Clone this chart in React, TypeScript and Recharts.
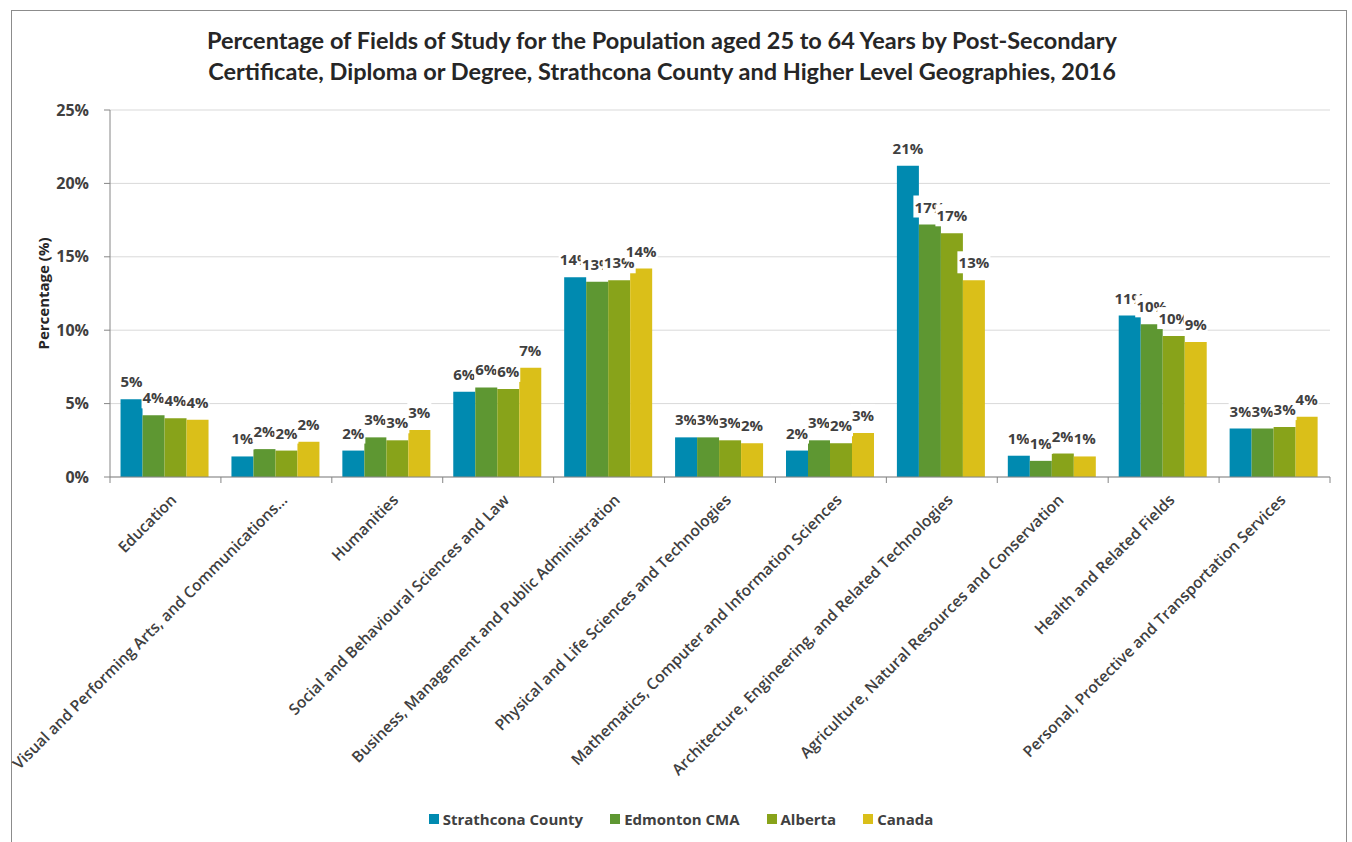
import React from 'react';
import { BarChart, Bar, XAxis, YAxis, CartesianGrid, LabelList } from 'recharts';

const categories = [
    'Education',
    'Visual and Performing Arts, and Communications...',
    'Humanities',
    'Social and Behavioural Sciences and Law',
    'Business, Management and Public Administration',
    'Physical and Life Sciences and Technologies',
    'Mathematics, Computer and Information Sciences',
    'Architecture, Engineering, and Related Technologies',
    'Agriculture, Natural Resources and Conservation',
    'Health and Related Fields',
    'Personal, Protective and Transportation Services',
];

const strathcona = [5.3, 1.4, 1.8, 5.8, 13.6, 2.7, 1.8, 21.2, 1.45, 11.0, 3.3];
const edmonton = [4.2, 1.9, 2.7, 6.1, 13.3, 2.7, 2.5, 17.2, 1.1, 10.4, 3.3];
const alberta = [4.0, 1.8, 2.5, 6.0, 13.4, 2.5, 2.3, 16.6, 1.6, 9.6, 3.4];
const canada = [3.9, 2.4, 3.2, 7.45, 14.2, 2.3, 3.0, 13.4, 1.4, 9.2, 4.1];

const yTicks = [0, 5, 10, 15, 20, 25];

const seriesList = [
    { key: 'strathcona', name: 'Strathcona County', color: '#008AB0' },
    { key: 'edmonton', name: 'Edmonton CMA', color: '#5E9732' },
    { key: 'alberta', name: 'Alberta', color: '#88A31A' },
    { key: 'canada', name: 'Canada', color: '#DABF19' },
];

const chartData = categories.map((name, i) => ({
    name,
    strathcona: strathcona[i],
    edmonton: edmonton[i],
    alberta: alberta[i],
    canada: canada[i],
}));

const CHART_W = 1352;
const CHART_H = 842;
const MARGIN = { top: 110, right: 22, bottom: 35, left: 50 };
const Y_AXIS_W = 60;
const PLOT_W = CHART_W - MARGIN.left - MARGIN.right - Y_AXIS_W;
const BAND = PLOT_W / categories.length;
const TEXT = '#404040';
const AXIS = '#868686';
const FONT = '"Open Sans", "DejaVu Sans", sans-serif';

// category label rotated 45deg, with tick marks on the band edges
const CategoryTick = (props: any) => {
    const { x, y, payload, index } = props;
    const left = x - BAND / 2;
    const ax = x + 12;
    const ay = y + 24;
    return (
        <g>
            <line x1={left} y1={y} x2={left} y2={y + 6} stroke={AXIS} />
            {index === categories.length - 1 && (
                <line x1={x + BAND / 2} y1={y} x2={x + BAND / 2} y2={y + 6} stroke={AXIS} />
            )}
            <text
                x={ax}
                y={ay}
                transform={`rotate(-45, ${ax}, ${ay})`}
                textAnchor="end"
                fill={TEXT}
                fontSize={15.5}
                fontWeight={600}
                fontFamily={FONT}
            >
                {payload.value}
            </text>
        </g>
    );
};

// Excel-like data label: text on a white box sitting above the bar
const BoxLabel = (props: any) => {
    const { x, y, width, value } = props;
    if (value == null) return null;
    const text = `${Math.round(value)}%`;
    const cx = x + width / 2;
    const w = text.length * 9 + 6;
    const h = 22;
    const bottom = y - 7;
    return (
        <g>
            <rect x={cx - w / 2} y={bottom - h} width={w} height={h} fill="#ffffff" />
            <text
                x={cx}
                y={bottom - h / 2}
                dominantBaseline="central"
                textAnchor="middle"
                fill={TEXT}
                fontSize={15}
                fontWeight={700}
                fontFamily={FONT}
            >
                {text}
            </text>
        </g>
    );
};

export default function App() {
    return (
        <div style={{ position: 'absolute', left: 0, top: 0, width: CHART_W, height: CHART_H, overflow: 'hidden', background: '#fff' }}>
            <div style={{
                position: 'absolute', left: 11, top: 10, width: 1336, height: 860,
                border: '1px solid #8c8c8c', boxSizing: 'border-box'
            }} />
            <div style={{
                position: 'absolute', left: 0, width: 1324, top: 25, textAlign: 'center',
                fontFamily: 'Lato, "Open Sans", sans-serif', fontWeight: 700, fontSize: 23.5,
                lineHeight: '31px', color: '#262626'
            }}>
                Percentage of Fields of Study for the Population aged 25 to 64 Years by Post-Secondary<br />
                Certificate, Diploma or Degree, Strathcona County and Higher Level Geographies, 2016
            </div>

            <div style={{ position: 'absolute', left: 0, top: 0 }}>
                <BarChart
                    width={CHART_W}
                    height={CHART_H}
                    data={chartData}
                    margin={MARGIN}
                    barCategoryGap="9.5%"
                    barGap={0}
                >
                    <CartesianGrid vertical={false} stroke="#d9d9d9" />
                    <XAxis
                        dataKey="name"
                        interval={0}
                        height={330}
                        tickSize={0}
                        tickMargin={0}
                        tickLine={false}
                        axisLine={{ stroke: AXIS }}
                        tick={<CategoryTick />}
                    />
                    <XAxis xAxisId="labels" dataKey="name" hide />
                    <YAxis
                        width={Y_AXIS_W}
                        domain={[0, 25]}
                        ticks={yTicks}
                        interval={0}
                        tickFormatter={(v) => `${v}%`}
                        axisLine={{ stroke: AXIS }}
                        tickLine={{ stroke: AXIS }}
                        tickSize={6}
                        tickMargin={15}
                        tick={{ fill: TEXT, fontSize: 16, fontWeight: 700, fontFamily: FONT }}
                        label={{
                            value: 'Percentage (%)',
                            angle: -90,
                            position: 'left',
                            offset: 6,
                            style: { fill: '#262626', fontSize: 15, fontWeight: 700, fontFamily: FONT, textAnchor: 'middle' },
                        }}
                    />
                    {seriesList.map((s) => (
                        <Bar key={s.key} dataKey={s.key} name={s.name} fill={s.color} isAnimationActive={false} />
                    ))}
                    {/* transparent copies drawn last so every label sits on top of all bars */}
                    {seriesList.map((s) => (
                        <Bar
                            key={`${s.key}-lbl`}
                            xAxisId="labels"
                            dataKey={s.key}
                            fill="transparent"
                            isAnimationActive={false}
                            legendType="none"
                        >
                            <LabelList dataKey={s.key} content={<BoxLabel />} />
                        </Bar>
                    ))}
                </BarChart>
            </div>

            <div style={{
                position: 'absolute', left: 0, width: 1352, top: 809, display: 'flex',
                justifyContent: 'center', gap: 27, paddingLeft: 10, boxSizing: 'border-box',
                fontFamily: FONT, fontWeight: 700, fontSize: 15, color: TEXT
            }}>
                {seriesList.map((s) => (
                    <div key={s.key} style={{ display: 'flex', alignItems: 'center' }}>
                        <span style={{ width: 10, height: 10, background: s.color, marginRight: 4, display: 'inline-block' }} />
                        {s.name}
                    </div>
                ))}
            </div>
        </div>
    );
}
